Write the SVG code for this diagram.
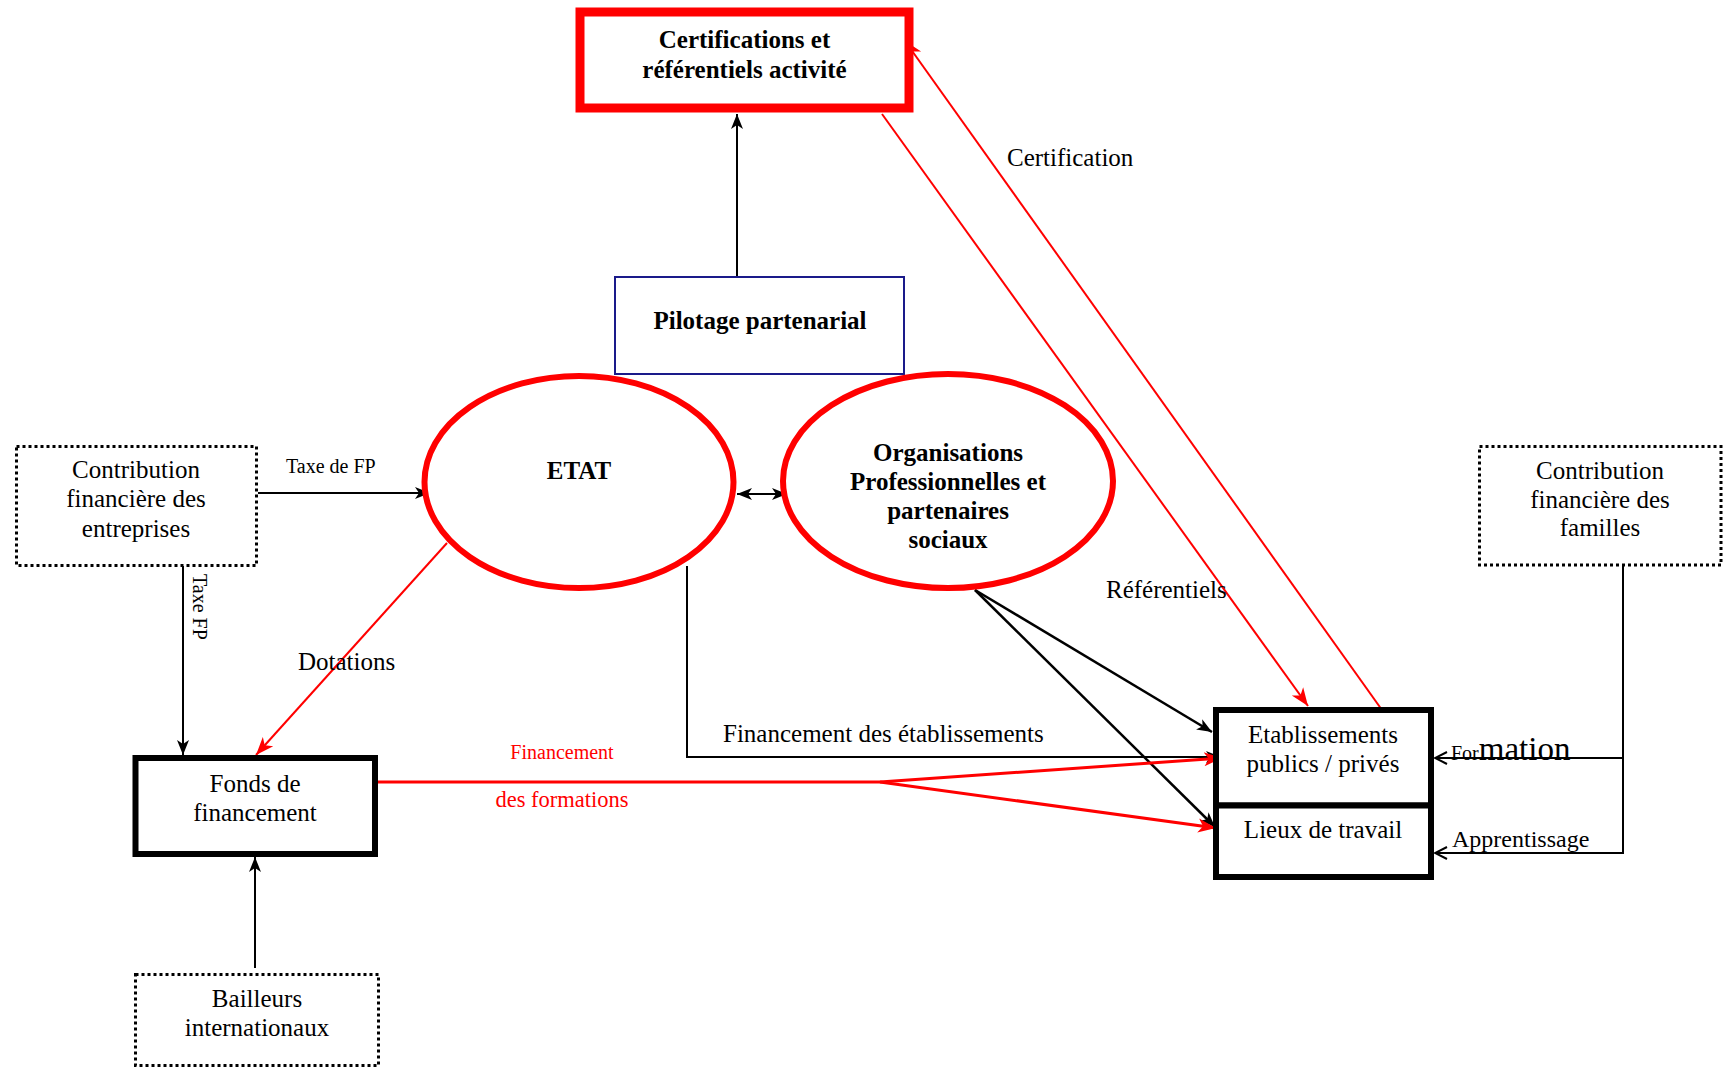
<svg xmlns="http://www.w3.org/2000/svg" width="1724" height="1069" viewBox="0 0 1724 1069">
<style>
.t{font-family:"Liberation Serif","Times New Roman",serif;font-size:25px;fill:#000;text-anchor:middle}
.l{font-family:"Liberation Serif","Times New Roman",serif;fill:#000}
.b{font-weight:bold}
.red{fill:#ff0000}
.dot{fill:#fff;stroke:#000;stroke-width:3;stroke-dasharray:3 3}
.thick{fill:#fff;stroke:#000;stroke-width:6}
.ell{fill:#fff;stroke:#ff0000;stroke-width:6}
.cb{fill:none;stroke:#000;stroke-width:2}
.cr{fill:none;stroke:#ff0000;stroke-width:2}
.cr3{fill:none;stroke:#ff0000;stroke-width:3}
</style>
<defs>
<marker id="ab" markerUnits="userSpaceOnUse" markerWidth="16" markerHeight="14" refX="15" refY="6" orient="auto-start-reverse" viewBox="0 0 16 12">
<path d="M0,0 L15,6 L0,12 L4,6 z" fill="#000"/>
</marker>
<marker id="ar" markerUnits="userSpaceOnUse" markerWidth="20" markerHeight="16" refX="18" refY="7" orient="auto" viewBox="0 0 20 14">
<path d="M0,0 L18,7 L0,14 L5,7 z" fill="#ff0000"/>
</marker>
<marker id="ao" markerUnits="userSpaceOnUse" markerWidth="14" markerHeight="14" refX="12" refY="6" orient="auto" viewBox="-1 -1 14 14">
<path d="M0,0 L12,6 L0,12" fill="none" stroke="#000" stroke-width="2"/>
</marker>
</defs>

<g id="connectors">
<line class="cb" x1="737" y1="277" x2="737" y2="114" marker-end="url(#ab)"/>
<line class="cb" x1="258" y1="493" x2="430" y2="493" marker-end="url(#ab)"/>
<line class="cb" x1="183" y1="566" x2="183" y2="755" marker-end="url(#ab)"/>
<line class="cb" x1="737" y1="494" x2="787" y2="494" marker-start="url(#ab)" marker-end="url(#ab)"/>
<line class="cb" x1="255" y1="968" x2="255" y2="857" marker-end="url(#ab)"/>
<polyline class="cb" points="687,566 687,757 1221,757" marker-end="url(#ab)"/>
<line class="cb" style="stroke-width:2.5" x1="975" y1="590" x2="1212" y2="732" marker-end="url(#ab)"/>
<line class="cb" style="stroke-width:2.5" x1="975" y1="590" x2="1215" y2="827" marker-end="url(#ab)"/>
<polyline class="cb" points="1623,566 1623,853 1435,853" marker-end="url(#ao)"/>
<line class="cb" x1="1623" y1="758" x2="1435" y2="758" marker-end="url(#ao)"/>
<line class="cr" x1="447" y1="543" x2="256" y2="755" marker-end="url(#ar)"/>
<line class="cr" x1="882" y1="114" x2="1308" y2="706" marker-end="url(#ar)"/>
<line class="cr" x1="1382" y1="710" x2="905" y2="41" marker-end="url(#ar)"/>
<line class="cr3" x1="378" y1="782" x2="880" y2="782"/>
<line class="cr3" x1="880" y1="782" x2="1222" y2="758" marker-end="url(#ar)"/>
<line class="cr3" x1="880" y1="782" x2="1216" y2="828" marker-end="url(#ar)"/>
</g>

<g id="labels">
<text class="l" x="286" y="473" font-size="20">Taxe de FP</text>
<text class="l" font-size="20" transform="translate(193,574) rotate(90)">Taxe FP</text>
<text class="l" x="298" y="670" font-size="25">Dotations</text>
<text class="l" x="723" y="742" font-size="25">Financement des établissements</text>
<text class="t red" x="562" y="759" style="font-size:20px">Financement</text>
<text class="t red" x="562" y="807" style="font-size:22.5px">des formations</text>
<text class="l" x="1007" y="166" font-size="25">Certification</text>
<text class="l" x="1106" y="598" font-size="25">Référentiels</text>
<text class="l" x="1451" y="760" font-size="20">For<tspan font-size="33">mation</tspan></text>
<text class="l" x="1452" y="847" font-size="24">Apprentissage</text>
</g>

<g id="certifications">
<rect x="580" y="12" width="329" height="96" fill="#fff" stroke="#ff0000" stroke-width="9"/>
<text class="t b" x="744.5" y="48">Certifications et</text>
<text class="t b" x="744.5" y="78">référentiels activité</text>
</g>

<g id="pilotage">
<rect x="615" y="277" width="289" height="97" fill="#fff" stroke="#1a1a8a" stroke-width="2"/>
<text class="t b" x="760" y="329">Pilotage partenarial</text>
</g>

<g id="etat">
<ellipse class="ell" cx="579" cy="482" rx="154.5" ry="106"/>
<text class="t b" x="579" y="479">ETAT</text>
</g>

<g id="organisations">
<ellipse class="ell" cx="948" cy="481" rx="165" ry="107"/>
<text class="t b" x="948" y="461">Organisations</text>
<text class="t b" x="948" y="490">Professionnelles et</text>
<text class="t b" x="948" y="519">partenaires</text>
<text class="t b" x="948" y="548">sociaux</text>
</g>

<g id="contribution-entreprises">
<rect class="dot" x="16.5" y="446.5" width="240" height="119"/>
<text class="t" x="136" y="478">Contribution</text>
<text class="t" x="136" y="507">financière des</text>
<text class="t" x="136" y="537">entreprises</text>
</g>

<g id="contribution-familles">
<rect class="dot" x="1479.5" y="446.5" width="241.5" height="118.5"/>
<text class="t" x="1600" y="479">Contribution</text>
<text class="t" x="1600" y="508">financière des</text>
<text class="t" x="1600" y="536">familles</text>
</g>

<g id="fonds">
<rect class="thick" x="135.5" y="758" width="239.5" height="96"/>
<text class="t" x="255" y="792">Fonds de</text>
<text class="t" x="255" y="821">financement</text>
</g>

<g id="bailleurs">
<rect class="dot" x="135.5" y="974.5" width="243" height="91"/>
<text class="t" x="257" y="1007">Bailleurs</text>
<text class="t" x="257" y="1036">internationaux</text>
</g>

<g id="etablissements">
<rect class="thick" x="1216" y="710" width="215" height="95.5"/>
<text class="t" x="1323" y="743">Etablissements</text>
<text class="t" x="1323" y="772">publics / privés</text>
</g>

<g id="lieux">
<rect class="thick" x="1216" y="805.5" width="215" height="71.5"/>
<text class="t" x="1323" y="838">Lieux de travail</text>
</g>
</svg>
